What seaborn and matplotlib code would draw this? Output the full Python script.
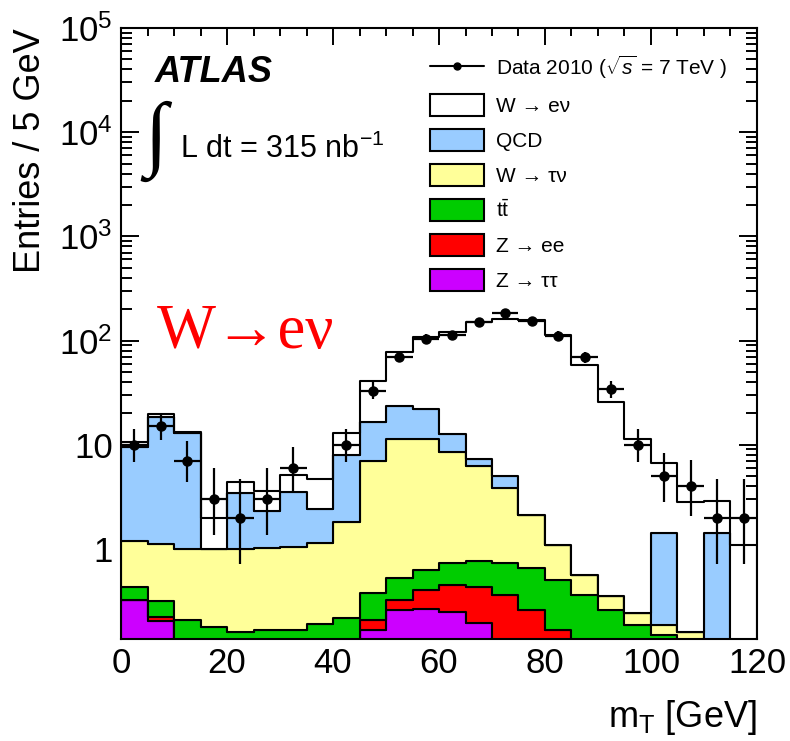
import numpy as np
import pandas as pd
import matplotlib
matplotlib.use("Agg")
import matplotlib.pyplot as plt
import seaborn as sns
from matplotlib.lines import Line2D
from matplotlib.patches import Patch
from matplotlib.ticker import MultipleLocator, LogLocator, NullFormatter

# Transverse-mass binning (GeV)
mt_min, mt_max, bin_width = 0, 120, 5

# Observed events per 5 GeV bin (bin 35-40 is empty)
data_counts = [10, 15, 7, 3, 2, 3, 6, 0, 10, 33, 70, 104,
               113, 152, 184, 154, 111, 69, 34, 10, 5, 4, 2, 2]

# Expected events per bin for each process
w_enu = [1.1, 1.2, 0.5, 0.98, 1.01, 1.3, 1.58, 2.28, 4.92, 24.1, 54.0, 87.1,
         109.3, 142.7, 155.0, 155.9, 112.9, 57.4, 25.6, 11.2, 5.2, 2.68, 1.5, 1.09]
qcd = [8.3, 17.5, 11.9, 0, 2.43, 1.32, 2.5, 1.27, 6.15, 9.4, 12.0, 10.5,
       4.1, 0.96, 1.16, 0, 0, 0, 0, 0, 1.22, 0, 1.41, 0]
w_taunu = [0.765, 0.805, 0.78, 0.813, 0.83, 0.848, 0.883, 0.96, 1.61, 6.62, 10.9, 10.8,
           7.86, 5.53, 3.1, 1.45, 0.573, 0.2, 0.09, 0.053, 0.037, 0.16, 0, 0]
ttbar = [0.115, 0.095, 0.21, 0.177, 0.161, 0.167, 0.167, 0.19, 0.216, 0.17, 0.195, 0.23,
         0.29, 0.335, 0.37, 0.393, 0.34, 0.36, 0.26, 0.187, 0.15, 0, 0, 0]
z_ee = [0, 0.015, 0, 0, 0, 0, 0, 0, 0, 0.045, 0.065, 0.135,
        0.2, 0.24, 0.36, 0.26, 0.167, 0, 0, 0, 0, 0, 0, 0]
z_tautau = [0.32, 0.205, 0, 0, 0, 0, 0, 0, 0, 0.165, 0.26, 0.265,
            0.25, 0.195, 0, 0, 0, 0, 0, 0, 0, 0, 0, 0]

processes = ["W → eν", "QCD", "W → τν", "tt̄", "Z → ee", "Z → ττ"]
process_yields = [w_enu, qcd, w_taunu, ttbar, z_ee, z_tautau]
colours = ["#ffffff", "#99ccff", "#ffff99", "#00cc00", "#ff0000", "#cc00ff"]
legend_labels = ["Data 2010 ($\\sqrt{s}$ = 7 TeV )", "W → eν", "QCD", "W → τν",
                 "t$\\bar{\\mathrm{t}}$", "Z → ee", "Z → ττ"]
ytick_values = [1, 10, 1e2, 1e3, 1e4, 1e5]
ytick_labels = ["1", "10", "10$^{2}$", "10$^{3}$", "10$^{4}$", "10$^{5}$"]

edges = np.arange(mt_min, mt_max + bin_width, bin_width)
centres = edges[:-1] + bin_width / 2

mc = pd.DataFrame({
    "mT": np.tile(centres, len(processes)),
    "process": np.repeat(processes, len(centres)),
    "events": np.concatenate(process_yields),
})

sns.set_style("ticks")
plt.rcParams.update({
    "font.family": ["Liberation Sans", "DejaVu Sans"],
    "mathtext.fontset": "custom",
    "mathtext.rm": "Liberation Sans",
    "mathtext.it": "Liberation Sans:italic",
    "mathtext.bf": "Liberation Sans:bold",
    "axes.linewidth": 1.5,
    "axes.edgecolor": "black",
    "axes.labelcolor": "black",
    "text.color": "black",
    "xtick.color": "black",
    "ytick.color": "black",
})

fig = plt.figure(figsize=(7.9, 7.41), dpi=100)
ax = fig.add_axes([0.1532, 0.1383, 0.805, 0.8239])

# Stacked expectation: first hue level ends up on top of the stack
sns.histplot(data=mc, x="mT", weights="events", hue="process",
             hue_order=processes, palette=dict(zip(processes, colours)),
             multiple="stack", element="step", binwidth=bin_width,
             binrange=(mt_min, mt_max), alpha=1,
             edgecolor="black", linewidth=1.5, legend=False, ax=ax)
ax.set_yscale("log")

# Data with Poisson (Gehrels) uncertainties; empty bins are not drawn
counts = np.asarray(data_counts, dtype=float)
keep = counts > 0
n = counts[keep]
upper = n + np.sqrt(n + 0.75) + 1.0
lower = n * (1.0 - 1.0 / (9.0 * n) - 1.0 / (3.0 * np.sqrt(n))) ** 3
ax.errorbar(centres[keep], n, xerr=bin_width / 2, yerr=[n - lower, upper - n],
            fmt="o", color="black", ms=6.5, elinewidth=1.6, capsize=0, zorder=5)

ax.set_xlim(mt_min, mt_max)
ax.set_ylim(0.138, 1e5)
ax.xaxis.set_major_locator(MultipleLocator(20))
ax.xaxis.set_minor_locator(MultipleLocator(5))
ax.set_yticks(ytick_values)
ax.set_yticklabels(ytick_labels)
ax.yaxis.set_minor_locator(LogLocator(base=10, subs=np.arange(2, 10), numticks=50))
ax.yaxis.set_minor_formatter(NullFormatter())
ax.tick_params(which="both", direction="in", top=True, right=True, width=1.4,
               labelsize=25, pad=6)
ax.tick_params(axis="x", which="major", length=12.5)
ax.tick_params(axis="x", which="minor", length=5.5)
ax.tick_params(axis="y", which="major", length=13)
ax.tick_params(axis="y", which="minor", length=8)

ax.set_xlabel("m$_{\\mathrm{T}}$ [GeV]", loc="right", fontsize=26, labelpad=13)
ax.set_ylabel("Entries / 5 GeV", loc="top", fontsize=26, labelpad=8)

ax.text(0.053, 0.9116, "ATLAS", transform=ax.transAxes, fontsize=26,
        fontweight="bold", fontstyle="italic", va="baseline")
ax.text(0.036, 0.815, "∫", transform=ax.transAxes, fontsize=60, va="center",
        family=["Liberation Serif", "DejaVu Serif"])
ax.text(0.093, 0.787, "L dt = 315 nb$^{-1}$", transform=ax.transAxes,
        fontsize=22, va="baseline")
ax.text(0.0566, 0.476, "W→eν", transform=ax.transAxes, color="red",
        fontsize=45, va="baseline", family=["Liberation Serif", "DejaVu Serif"])

handles = [Line2D([0], [0], color="black", marker="o", ms=5, lw=1.5)]
handles += [Patch(facecolor=c, edgecolor="black", linewidth=1.5) for c in colours]
ax.legend(handles, legend_labels, loc="upper left", bbox_to_anchor=(0.486, 0.958),
          frameon=False, fontsize=15, handlelength=2.6, handleheight=1.25,
          labelspacing=0.62, handletextpad=0.58, borderpad=0, borderaxespad=0)

fig.savefig("out.png", dpi=100)
